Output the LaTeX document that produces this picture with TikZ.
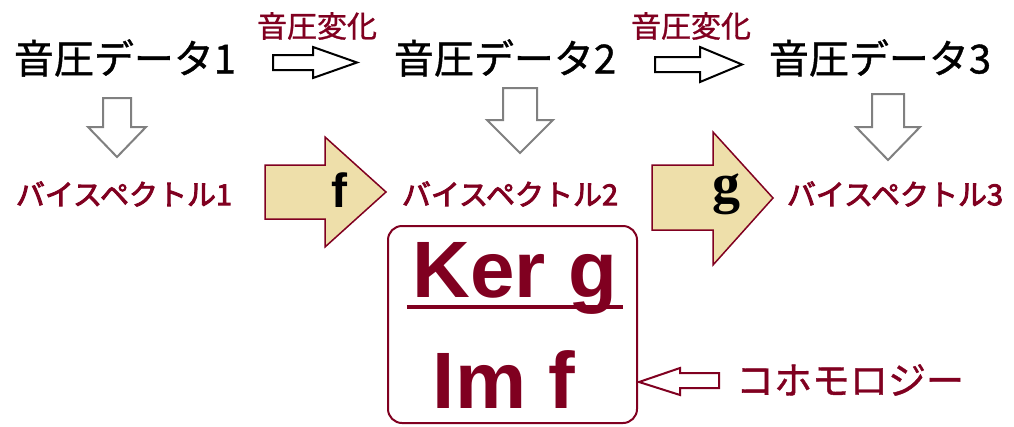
\documentclass[tikz,border=0pt]{standalone}
\usepackage{fontspec}
\setmainfont{Liberation Sans}
\newfontfamily\jpfont[FakeBold=1]{Noto Sans CJK JP}
\newfontfamily\jpheavy[FakeBold=3]{Noto Sans CJK JP}
\newfontfamily\seriffont{Liberation Serif}
\definecolor{custcol_80_00_20}{RGB}{128, 0, 32}
\definecolor{custcol_80_80_80}{RGB}{128, 128, 128}
\definecolor{custcol_ee_df_aa}{RGB}{238, 223, 170}
\tikzset{
  datalabel/.style={inner sep=0, outer sep=0, black, font=\jpfont\fontsize{40}{40}\selectfont},
  changelabel/.style={inner sep=0, outer sep=0, custcol_80_00_20, font=\jpfont\fontsize{30}{30}\selectfont},
  spectlabel/.style={inner sep=0, outer sep=0, custcol_80_00_20, font=\jpheavy\fontsize{29}{29}\selectfont},
  homlabel/.style={inner sep=0, outer sep=0, custcol_80_00_20, font=\bfseries\fontsize{80}{80}\selectfont},
  hollowarrow/.style={line width=2.0pt, black, fill=white, line join=miter},
  greyarrow/.style={line width=2.0pt, custcol_80_80_80, fill=white, line join=miter},
  maparrow/.style={line width=1.5pt, custcol_80_00_20, fill=custcol_ee_df_aa, line join=miter},
}
\begin{document}
\begin{tikzpicture}[x=1pt,y=-1pt]
\useasboundingbox (0,0) rectangle (1014,426);
% top row
\node[datalabel] (data1) at (125,58) {音圧データ1};
\node[datalabel] (data2) at (505,58) {音圧データ2};
\node[datalabel] (data3) at (880,58) {音圧データ3};
\node[changelabel] (change1) at (317,26) {音圧変化};
\node[changelabel] (change2) at (691,26) {音圧変化};
\draw [hollowarrow] (273,55) -- (313,55) -- (313,47) -- (357,62.5) -- (313,78) -- (313,70) -- (273,70) -- cycle;
\draw [hollowarrow] (655,57) -- (700,57) -- (700,47) -- (742,64.5) -- (700,82) -- (700,72) -- (655,72) -- cycle;
% down arrows
\draw [greyarrow] (103,98) -- (131,98) -- (131,127) -- (146,127) -- (117,157) -- (88,127) -- (103,127) -- cycle;
\draw [greyarrow] (503,88) -- (537,88) -- (537,120) -- (553,120) -- (520,153) -- (487,120) -- (503,120) -- cycle;
\draw [greyarrow] (872,94) -- (904,94) -- (904,127) -- (920,127) -- (888,160) -- (856,127) -- (872,127) -- cycle;
% bispectra
\node[spectlabel] (spect1) at (124,194) {バイスペクトル1};
\node[spectlabel] (spect2) at (510,194) {バイスペクトル2};
\node[spectlabel] (spect3) at (895,194) {バイスペクトル3};
\draw [maparrow] (265,165) -- (325,165) -- (325,137) -- (386,192) -- (325,247) -- (325,219) -- (265,219) -- cycle;
\draw [maparrow] (652,165) -- (713,165) -- (713,132) -- (773,198) -- (713,265) -- (713,230) -- (652,230) -- cycle;
\node[inner sep=0, black, font=\bfseries\fontsize{48}{48}\selectfont] (mapf) at (339,190) {f};
\node[inner sep=0, black, font=\seriffont\bfseries\fontsize{56}{56}\selectfont] (mapg) at (726,194) {g};
% cohomology
\node[draw=custcol_80_00_20, line width=2.0pt, rounded corners=14pt, minimum width=249pt, minimum height=197pt] (cohbox) at (512.5,324.5) {};
\node[homlabel, anchor=base] (kerg) at (515,297) {Ker g};
\draw [line width=3.5pt, custcol_80_00_20] ([xshift=-6pt,yshift=-10pt]kerg.base west) -- ([xshift=6pt,yshift=-10pt]kerg.base east);
\node[homlabel, anchor=base] (imf) at (504,408) {Im f};
\node[inner sep=0, outer sep=0, custcol_80_00_20, font=\jpfont\fontsize{38}{38}\selectfont] (cohom) at (850,380) {コホモロジー};
\draw [line width=2.0pt, custcol_80_00_20, fill=white, line join=miter] (719,373) -- (680,373) -- (680,368) -- (639,382) -- (680,395) -- (680,388) -- (719,388) -- cycle;
\end{tikzpicture}
\end{document}
